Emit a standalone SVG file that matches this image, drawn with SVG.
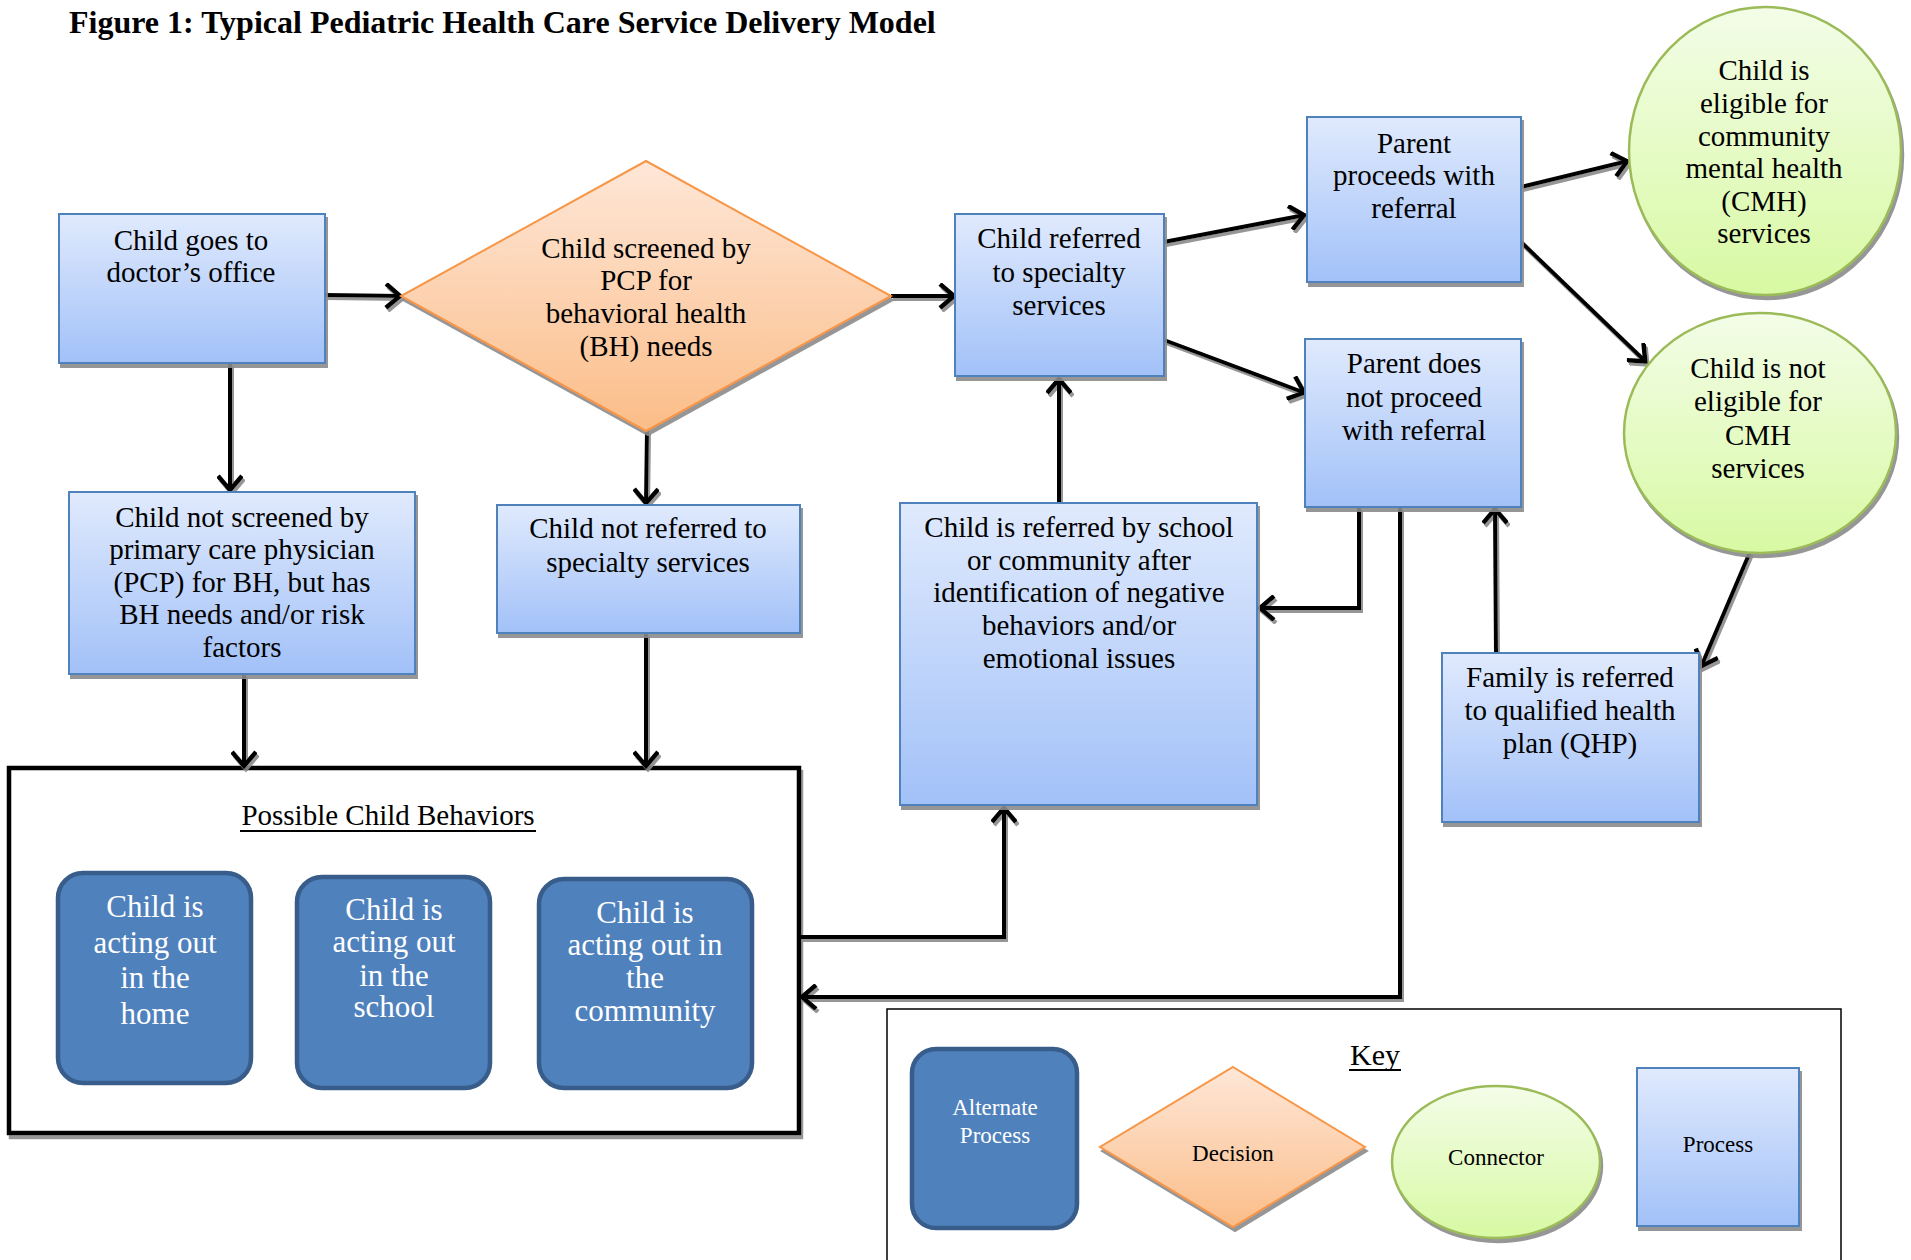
<svg xmlns="http://www.w3.org/2000/svg" width="1911" height="1260" viewBox="0 0 1911 1260" font-family="'Liberation Serif','Times New Roman',serif">
<defs>
<linearGradient id="gBlue" x1="0" y1="0" x2="0" y2="1"><stop offset="0" stop-color="#E0EAFD"/><stop offset="1" stop-color="#A2C1F8"/></linearGradient>
<linearGradient id="gOrange" x1="0" y1="0" x2="0" y2="1"><stop offset="0" stop-color="#FEE7D8"/><stop offset="1" stop-color="#FBBD88"/></linearGradient>
<linearGradient id="gGreen" x1="0" y1="0" x2="0" y2="1"><stop offset="0" stop-color="#F3FDE8"/><stop offset="1" stop-color="#D8F9A3"/></linearGradient>
<filter id="sh" x="-10%" y="-10%" width="130%" height="130%"><feDropShadow dx="2" dy="4" stdDeviation="0.6" flood-color="#8a8a8a" flood-opacity="0.9"/></filter>
<filter id="shl" x="-10%" y="-10%" width="130%" height="130%"><feDropShadow dx="2" dy="3" stdDeviation="0.6" flood-color="#8a8a8a" flood-opacity="0.9"/></filter>
<marker id="ah" markerUnits="userSpaceOnUse" viewBox="0 0 26 26" markerWidth="26" markerHeight="26" refX="21" refY="13" orient="auto">
<path d="M6,1 L20,13 L6,25" fill="none" stroke="#000" stroke-width="4.5" stroke-linejoin="miter"/>
</marker>
<style>
.proc{fill:url(#gBlue);stroke:#4F81BD;stroke-width:2;filter:url(#sh)}
.dec{fill:url(#gOrange);stroke:#F79646;stroke-width:2;filter:url(#sh)}
.con{fill:url(#gGreen);stroke:#9BBB59;stroke-width:2.5;filter:url(#sh)}
.alt{fill:#4F81BD;stroke:#385D8A;stroke-width:4.5}
.c{fill:none;stroke:#000;stroke-width:4;marker-end:url(#ah)}
</style>
</defs>
<rect width="1911" height="1260" fill="#fff"/>
<text x="69" y="33" font-family="Liberation Serif" font-weight="bold" font-size="32" fill="#000">Figure 1: Typical Pediatric Health Care Service Delivery Model</text>

<g id="behaviors-container">
<rect x="9" y="768" width="790" height="365" fill="#fff" stroke="#000" stroke-width="4.5" filter="url(#sh)"/>
<text x="388" y="825" font-family="Liberation Serif" font-size="29" text-anchor="middle" fill="#000">Possible Child Behaviors</text>
<line x1="240" y1="831" x2="536" y2="831" stroke="#000" stroke-width="2"/>
</g>

<g id="key">
<rect x="887" y="1009" width="954" height="300" fill="none" stroke="#000" stroke-width="1.5"/>
<text x="1375" y="1065" font-family="Liberation Serif" font-size="30" text-anchor="middle">Key</text>
<line x1="1349" y1="1070" x2="1401" y2="1070" stroke="#000" stroke-width="2"/>
<g id="key-alt"><rect class="alt" x="912" y="1049" width="165" height="179" rx="24"/>
<g font-family="Liberation Serif" font-size="23" text-anchor="middle" fill="#fff"><text x="995" y="1115">Alternate</text><text x="995" y="1143">Process</text></g></g>
<g id="key-decision"><polygon class="dec" points="1233,1067 1365,1147 1233,1227 1100,1147"/>
<text x="1233" y="1161" font-family="Liberation Serif" font-size="23" text-anchor="middle">Decision</text></g>
<g id="key-connector"><ellipse class="con" cx="1496" cy="1162" rx="104" ry="76"/>
<text x="1496" y="1165" font-family="Liberation Serif" font-size="23" text-anchor="middle">Connector</text></g>
<g id="key-process"><rect class="proc" x="1637" y="1068" width="162" height="158"/>
<text x="1718" y="1152" font-family="Liberation Serif" font-size="23" text-anchor="middle">Process</text></g>
</g>

<g id="connectors" filter="url(#shl)">
<path class="c" d="M325,295 L401,296"/>
<path class="c" d="M891,296 L955,296"/>
<path class="c" d="M230,363 L230,491"/>
<path class="c" d="M647,431 L646,504"/>
<path class="c" d="M244,674 L244,767"/>
<path class="c" d="M646,633 L646,767"/>
<path class="c" d="M1164,242 L1305,215"/>
<path class="c" d="M1164,340 L1305,393"/>
<path class="c" d="M1521,187 L1628,161"/>
<path class="c" d="M1521,242 L1646,362"/>
<path class="c" d="M1750,552 L1701,667"/>
<path class="c" d="M1496,653 L1495,508"/>
<path class="c" d="M1359,507 L1359,608 L1259,608"/>
<path class="c" d="M1400,507 L1400,997 L801,997"/>
<path class="c" d="M799,937 L1004,937 L1004,807"/>
<path class="c" d="M1059,503 L1059,378"/>
</g>

<g id="nodes" font-family="Liberation Serif" font-size="29" text-anchor="middle" fill="#000">
<g id="n-doctor"><rect class="proc" x="59" y="214" width="266" height="149"/>
<text x="191" y="250">Child goes to</text><text x="191" y="282">doctor’s office</text></g>

<g id="n-screened"><polygon class="dec" points="646,161 891,296 646,431 401,296"/>
<text x="646" y="258">Child screened by</text><text x="646" y="290">PCP for</text>
<text x="646" y="323">behavioral health</text><text x="646" y="356">(BH) needs</text></g>

<g id="n-not-screened"><rect class="proc" x="69" y="492" width="346" height="182"/>
<text x="242" y="527">Child not screened by</text><text x="242" y="559">primary care physician</text>
<text x="242" y="592">(PCP) for BH, but has</text><text x="242" y="624">BH needs and/or risk</text>
<text x="242" y="657">factors</text></g>

<g id="n-not-referred"><rect class="proc" x="497" y="505" width="303" height="128"/>
<text x="648" y="538">Child not referred to</text><text x="648" y="572">specialty services</text></g>

<g id="n-referred"><rect class="proc" x="955" y="214" width="209" height="162"/>
<text x="1059" y="248">Child referred</text><text x="1059" y="282">to specialty</text><text x="1059" y="315">services</text></g>

<g id="n-proceeds"><rect class="proc" x="1307" y="117" width="214" height="165"/>
<text x="1414" y="153">Parent</text><text x="1414" y="185">proceeds with</text><text x="1414" y="218">referral</text></g>

<g id="n-not-proceed"><rect class="proc" x="1305" y="339" width="216" height="168"/>
<text x="1414" y="373">Parent does</text><text x="1414" y="407">not proceed</text><text x="1414" y="440">with referral</text></g>

<g id="n-eligible"><ellipse class="con" cx="1765" cy="151" rx="136" ry="144"/>
<text x="1764" y="80">Child is</text><text x="1764" y="113">eligible for</text><text x="1764" y="146">community</text>
<text x="1764" y="178">mental health</text><text x="1764" y="211">(CMH)</text><text x="1764" y="243">services</text></g>

<g id="n-not-eligible"><ellipse class="con" cx="1760" cy="433" rx="136" ry="120"/>
<text x="1758" y="378">Child is not</text><text x="1758" y="411">eligible for</text>
<text x="1758" y="445">CMH</text><text x="1758" y="478">services</text></g>

<g id="n-school"><rect class="proc" x="900" y="503" width="357" height="302"/>
<text x="1079" y="537">Child is referred by school</text><text x="1079" y="570">or community after</text>
<text x="1079" y="602">identification of negative</text><text x="1079" y="635">behaviors and/or</text>
<text x="1079" y="668">emotional issues</text></g>

<g id="n-family"><rect class="proc" x="1442" y="653" width="257" height="169"/>
<text x="1570" y="687">Family is referred</text><text x="1570" y="720">to qualified health</text><text x="1570" y="753">plan (QHP)</text></g>
</g>

<g id="alt-nodes" font-family="Liberation Serif" font-size="31" text-anchor="middle" fill="#fff">
<g id="n-home"><rect class="alt" x="58" y="873" width="193" height="210" rx="25"/>
<text x="155" y="917">Child is</text><text x="155" y="953">acting out</text><text x="155" y="988">in the</text><text x="155" y="1024">home</text></g>

<g id="n-school-act"><rect class="alt" x="297" y="877" width="193" height="211" rx="25"/>
<text x="394" y="920">Child is</text><text x="394" y="952">acting out</text><text x="394" y="986">in the</text><text x="394" y="1017">school</text></g>

<g id="n-community"><rect class="alt" x="539" y="879" width="213" height="209" rx="25"/>
<text x="645" y="923">Child is</text><text x="645" y="955">acting out in</text><text x="645" y="988">the</text><text x="645" y="1021">community</text></g>
</g>
</svg>
